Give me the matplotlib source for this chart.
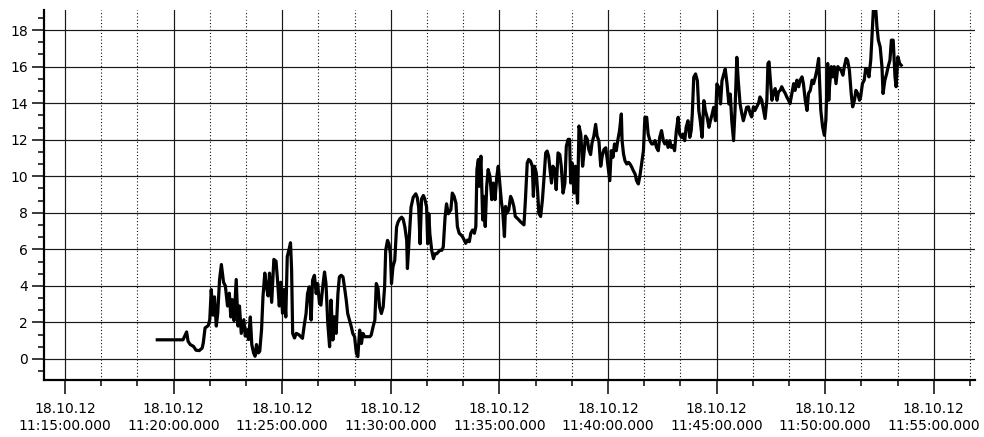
import datetime as dt

import matplotlib as mpl
import matplotlib.pyplot as plt
from matplotlib.ticker import FuncFormatter, MultipleLocator

mpl.rcParams['font.family'] = ['DejaVu Sans']

# time in seconds after 11:00:00 on 18.10.12, value of the signal
t1 = [1155, 1226, 1236, 1240, 1246, 1255, 1262, 1271, 1279, 1282, 1287, 1296, 1300, 1304, 1309,
      1313, 1318, 1322, 1327, 1332, 1338, 1343, 1349, 1354, 1358, 1362, 1367, 1373, 1378, 1382,
      1387, 1394, 1398, 1403, 1407, 1412, 1416, 1421, 1425, 1429, 1434, 1438, 1443, 1447, 1452,
      1456, 1461, 1465, 1471, 1477, 1483, 1487, 1492, 1496, 1501, 1505, 1510, 1514, 1519, 1523,
      1526, 1529, 1534, 1539, 1546]
v1 = [1.05, 1.05, 1.48, 0.97, 0.79, 0.69, 0.48, 0.46, 0.6, 0.88, 1.7, 1.83, 2.16, 3.8, 2.4,
      3.4, 1.8, 2.5, 4.35, 5.17, 4.2, 4.0, 2.9, 3.6, 2.3, 3.25, 2.1, 4.35, 1.8, 2.9,
      1.4, 2.15, 1.25, 1.6, 1.06, 2.3, 0.79, 0.33, 0.15, 0.79, 0.33, 0.42, 1.6, 3.43, 4.7,
      4.0, 3.45, 4.7, 3.1, 5.45, 5.35, 4.35, 2.9, 4.2, 2.5, 3.8, 2.3, 5.6, 6.0, 6.36,
      4.9, 1.4, 1.15, 1.4, 1.33]

t2 = [1556, 1561, 1566, 1570, 1575, 1580, 1584, 1589, 1594, 1598, 1603, 1607, 1612, 1617, 1621,
      1626, 1631, 1635, 1640, 1644, 1649, 1654, 1658, 1663, 1668, 1672, 1677, 1681, 1686, 1691,
      1695, 1700, 1705, 1709, 1714, 1719, 1723, 1728, 1732, 1737, 1742, 1746, 1751, 1756, 1760,
      1765, 1769, 1774, 1779, 1783, 1786, 1791, 1795, 1799, 1802, 1806, 1811, 1816, 1820, 1825,
      1830, 1834, 1839, 1844, 1846, 1851, 1856, 1862, 1869, 1873, 1877, 1881, 1885, 1890, 1894,
      1899, 1902, 1905, 1908, 1913, 1918, 1922, 1927, 1931, 1936, 1941, 1945, 1950, 1954, 1959]
v2 = [1.13, 1.85, 2.49, 3.58, 3.95, 2.13, 4.31, 4.58, 3.58, 4.13, 3.04, 2.95, 3.95, 4.76, 4.13,
      1.95, 0.67, 3.22, 1.04, 2.31, 1.4, 3.58, 4.49, 4.58, 4.49, 3.95, 3.22, 2.49, 2.13, 1.76,
      1.4, 1.22, 0.31, 0.13, 1.58, 0.85, 1.4, 1.22, 1.22, 1.22, 1.22, 1.31, 1.76, 2.13, 4.13,
      3.85, 2.85, 2.49, 2.85, 3.95, 5.95, 6.49, 6.31, 5.76, 4.13, 5.04, 5.4, 7.22, 7.49, 7.67,
      7.76, 7.67, 7.22, 6.49, 4.95, 6.67, 8.31, 8.85, 9.04, 8.85, 8.31, 6.31, 8.76, 8.95, 8.76,
      8.31, 6.31, 7.95, 6.85, 5.95, 5.49, 5.76, 5.76, 5.85, 5.95, 5.95, 6.13, 7.76, 8.49, 7.95]

t3 = [1966, 1970, 1975, 1980, 1984, 1989, 1994, 1998, 2003, 2007, 2012, 2017, 2021, 2026, 2031,
      2035, 2038, 2042, 2044, 2049, 2054, 2056, 2061, 2065, 2069, 2074, 2079, 2083, 2088, 2093,
      2097, 2102, 2106, 2109, 2114, 2117, 2121, 2126, 2131, 2135, 2140, 2144, 2149, 2154, 2158,
      2163, 2168, 2172, 2177, 2181, 2186, 2191, 2194, 2197, 2202, 2206, 2209, 2214, 2219, 2223,
      2228, 2232, 2236, 2239, 2244, 2248, 2253, 2257, 2262, 2267, 2271, 2276, 2281, 2285, 2290,
      2294, 2297, 2301, 2306, 2310, 2316, 2320, 2325, 2330, 2333, 2338, 2343, 2347, 2352, 2356,
      2361, 2366, 2370, 2375, 2380, 2384, 2389, 2394, 2398]
v3 = [8.17, 9.08, 8.9, 8.53, 7.25, 6.88, 6.79, 6.7, 6.51, 6.33, 6.51, 6.42, 6.88, 7.06, 6.88,
      7.25, 10.37, 10.92, 9.45, 11.1, 7.61, 8.9, 7.25, 9.45, 10.37, 10.0, 8.72, 9.63, 8.72, 10.0,
      10.55, 9.45, 8.53, 8.17, 6.7, 8.35, 7.98, 8.17, 8.9, 8.72, 8.35, 7.8, 7.71, 7.61, 7.52,
      7.43, 7.34, 8.72, 10.73, 10.92, 10.83, 10.55, 8.9, 10.55, 10.18, 9.08, 7.98, 7.8, 8.72, 9.82,
      11.28, 11.38, 11.1, 10.55, 9.63, 10.55, 10.37, 9.27, 11.28, 11.19, 10.55, 9.08, 9.63, 11.65, 12.02,
      12.02, 9.63, 10.73, 9.08, 10.55, 8.53, 12.75, 12.29, 10.55, 11.1, 12.2, 12.02, 11.47, 11.19, 11.83,
      12.2, 12.84, 12.2, 11.93, 10.55, 11.1, 11.47, 11.56, 10.92]

t4 = [2405, 2409, 2414, 2418, 2423, 2427, 2432, 2437, 2439, 2443, 2447, 2452, 2457, 2461, 2466,
      2470, 2475, 2479, 2484, 2489, 2493, 2498, 2502, 2507, 2511, 2516, 2521, 2525, 2530, 2534,
      2539, 2543, 2548, 2553, 2557, 2562, 2566, 2571, 2575, 2580, 2584, 2589, 2594, 2598, 2603,
      2607, 2612, 2616, 2621, 2626, 2630, 2633, 2637, 2642, 2647, 2651, 2655, 2660, 2665, 2669,
      2674, 2679, 2683, 2688, 2692, 2697, 2701, 2706, 2711, 2715, 2720, 2724, 2729, 2734, 2738,
      2742, 2747, 2751, 2756, 2760, 2765, 2770, 2774, 2779, 2783]
v4 = [9.76, 11.4, 11.04, 11.77, 11.4, 11.95, 12.5, 13.41, 11.95, 11.22, 10.85, 10.67, 10.76, 10.67, 10.49,
      10.31, 10.12, 9.76, 9.58, 10.12, 10.67, 11.4, 13.23, 13.23, 12.31, 11.95, 11.77, 11.77, 11.95, 11.58,
      11.4, 12.13, 12.5, 11.95, 11.77, 11.95, 11.58, 11.95, 11.58, 11.68, 11.4, 12.5, 13.23, 12.31, 12.13,
      12.31, 11.95, 12.68, 13.04, 12.13, 12.5, 13.41, 15.42, 15.6, 15.23, 13.59, 13.04, 12.13, 14.14, 13.59,
      13.23, 12.68, 13.04, 13.41, 13.77, 13.04, 15.05, 14.87, 13.96, 15.23, 15.6, 15.87, 15.05, 13.96, 14.5,
      13.04, 11.95, 13.59, 16.51, 15.23, 13.96, 13.41, 13.04, 13.41, 13.77]

t5 = [2788, 2793, 2797, 2802, 2806, 2811, 2816, 2820, 2825, 2830, 2834, 2839, 2842, 2845, 2848,
      2853, 2857, 2862, 2867, 2871, 2876, 2880, 2885, 2890, 2894, 2899, 2903, 2908, 2913, 2917,
      2922, 2927, 2931, 2936, 2940, 2945, 2950, 2954, 2959, 2964, 2968, 2973, 2977, 2982, 2985,
      2988, 2993, 2998, 3002, 3007, 3010, 3012, 3017, 3021, 3025, 3030, 3035, 3039, 3044, 3049,
      3053, 3058, 3062, 3067, 3072, 3076, 3081, 3085, 3090, 3095, 3098, 3103, 3108, 3112, 3117,
      3121, 3126, 3131, 3134, 3139, 3143, 3147, 3152, 3157, 3160, 3165, 3170, 3174, 3179, 3183,
      3188, 3193, 3196, 3201, 3206, 3210]
v5 = [13.8, 13.43, 13.25, 13.8, 13.6, 13.8, 14.0, 14.34, 14.16, 13.6, 13.16, 14.16, 16.17, 16.26, 15.44,
      14.16, 14.53, 14.8, 14.16, 14.62, 14.7, 14.9, 14.7, 14.53, 14.34, 14.16, 13.98, 14.53, 15.07, 14.7,
      15.26, 14.9, 15.26, 15.44, 15.07, 14.16, 13.6, 14.53, 14.7, 15.26, 15.07, 15.44, 15.8, 16.45, 15.07,
      13.6, 12.7, 12.24, 13.07, 16.17, 14.16, 14.9, 16.0, 15.44, 16.0, 15.07, 16.0, 15.9, 15.8, 15.53,
      16.0, 16.45, 16.35, 15.8, 14.53, 13.8, 14.16, 14.7, 14.53, 14.16, 14.34, 15.07, 15.26, 15.9, 15.8,
      15.44, 16.35, 18.2, 19.4, 19.4, 18.2, 17.45, 17.08, 15.99, 14.53, 15.26, 15.62, 16.0, 16.35, 17.45,
      17.45, 15.44, 14.9, 16.54, 16.17, 16.08]

t_sec = t1 + t2 + t3 + t4 + t5
values = v1 + v2 + v3 + v4 + v5
assert len(t_sec) == len(values)

base = dt.datetime(2012, 10, 18, 11, 0, 0)


def fmt_time(x, pos):
    d = base + dt.timedelta(seconds=round(x))
    return d.strftime("%d.%m.%y\n%H:%M:%S") + ".000"


fig = plt.figure(figsize=(9.84, 4.37), dpi=100)
ax = fig.add_axes([44 / 984, 1 - 380 / 437, 931 / 984, 370 / 437])

px = 0.72  # one pixel in points
ax.xaxis.set_major_locator(MultipleLocator(300))
ax.xaxis.set_minor_locator(MultipleLocator(100))
ax.yaxis.set_major_locator(MultipleLocator(2))
ax.yaxis.set_minor_locator(MultipleLocator(2 / 3))
ax.xaxis.set_major_formatter(FuncFormatter(fmt_time))

ax.set_xlim(842, 3414)
ax.set_ylim(-1.15, 19.1)

ax.grid(which='major', color='#1a1a1a', lw=1.2 * px, zorder=0)
ax.xaxis.grid(which='minor', color='#111111', lw=1.1 * px, linestyle=(0, (1, 2)), zorder=0)

ax.plot(t_sec, values, color='black', lw=3.2 * px, zorder=3)

for side in ['top', 'right']:
    ax.spines[side].set_visible(False)
for side in ['left', 'bottom']:
    ax.spines[side].set_linewidth(2.2 * px)

ax.tick_params(which='major', length=12 * px, width=1.5 * px, labelsize=10, pad=3)
ax.tick_params(which='minor', length=6 * px, width=1.5 * px)
ax.tick_params(axis='x', which='major', length=14 * px, pad=6)

fig.savefig("out.png", dpi=100)
